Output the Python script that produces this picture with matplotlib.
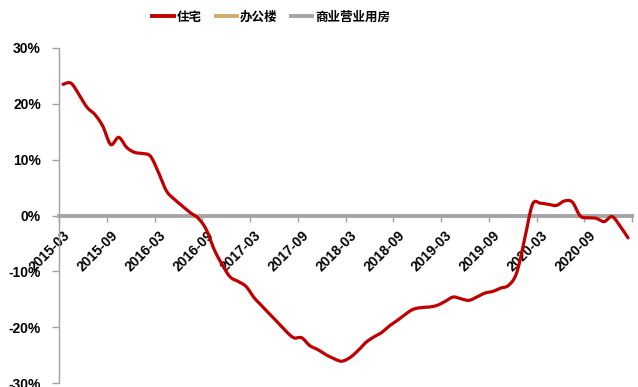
import numpy as np
import matplotlib
matplotlib.use("Agg")
from matplotlib import pyplot as plt
from matplotlib.lines import Line2D
from matplotlib.ticker import FuncFormatter, FixedLocator

plt.rcParams['font.family'] = ['Liberation Sans', 'Noto Sans CJK SC', 'DejaVu Sans']

SERIES_NAMES = ["住宅", "办公楼", "商业营业用房"]
SERIES_COLORS = ["#C00000", "#D6A869", "#A5A5A5"]

# monthly, 2015-03 .. 2021-02 (%)
housing = [23.5, 23.7, 21.7, 19.4, 18.1, 16.0, 12.7, 14.0, 12.2, 11.3, 11.1, 10.6,
           7.7, 4.4, 2.9, 1.7, 0.5, -0.5, -2.5, -6.1, -8.8, -11.0, -11.8, -12.7,
           -14.7, -16.2, -17.7, -19.2, -20.7, -21.9, -21.9, -23.3, -24.0, -24.9, -25.6, -26.1,
           -25.5, -24.3, -22.8, -21.8, -21.0, -19.8, -18.8, -17.7, -16.8, -16.5, -16.4, -16.1,
           -15.4, -14.6, -14.9, -15.2, -14.6, -13.9, -13.6, -13.0, -12.5, -10.3, -4.3, 2.0,
           2.2, 2.0, 1.8, 2.6, 2.4, -0.1, -0.4, -0.5, -1.1, -0.2, -1.9, -4.0]

tick_labels = ["2015-03", "2015-09", "2016-03", "2016-09", "2017-03", "2017-09",
               "2018-03", "2018-09", "2019-03", "2019-09", "2020-03", "2020-09"]


def smooth_path(xs, ys, n=10):
    # catmull-rom curve through the points, like excel's smoothed line
    xs = np.asarray(xs, float)
    ys = np.asarray(ys, float)
    px = np.concatenate([[xs[0]], xs, [xs[-1]]])
    py = np.concatenate([[ys[0]], ys, [ys[-1]]])
    out_x, out_y = [], []
    t = np.linspace(0, 1, n, endpoint=False)
    for i in range(1, len(px) - 2):
        for arr, out in ((px, out_x), (py, out_y)):
            p0, p1, p2, p3 = arr[i - 1], arr[i], arr[i + 1], arr[i + 2]
            out.extend(0.5 * (2 * p1 + (-p0 + p2) * t
                              + (2 * p0 - 5 * p1 + 4 * p2 - p3) * t ** 2
                              + (-p0 + 3 * p1 - 3 * p2 + p3) * t ** 3))
    out_x.append(xs[-1])
    out_y.append(ys[-1])
    return out_x, out_y


x = np.arange(len(housing))

fig = plt.figure(figsize=(6.38, 3.87), dpi=100)
ax = fig.add_axes([0.0925, 0.0103, 0.8981, 0.8657])

sx, sy = smooth_path(x, housing)
ax.plot(sx, sy, color=SERIES_COLORS[0], lw=2.3, solid_capstyle='round', zorder=3)

ax.set_xlim(-0.5, len(housing) - 0.5)
ax.set_ylim(-30, 30)
ax.set_yticks([-30, -20, -10, 0, 10, 20, 30])
ax.yaxis.set_major_formatter(FuncFormatter(lambda v, p: f"{v:.0f}%"))

for s in ["top", "right"]:
    ax.spines[s].set_visible(False)
ax.spines["left"].set_color("#A0A0A0")
ax.spines["left"].set_linewidth(1.0)
ax.spines["bottom"].set_position(("data", 0))
ax.spines["bottom"].set_color("#A5A5A5")
ax.spines["bottom"].set_linewidth(2.8)
ax.spines["bottom"].set_zorder(2)

ax.tick_params(axis="y", direction="out", length=5, width=1, color="#A0A0A0",
               labelsize=10, pad=8)
for lab in ax.get_yticklabels():
    lab.set_fontweight("bold")

# labels at category centres, tick marks between categories
ax.set_xticks(np.arange(0, len(housing), 6))
ax.set_xticklabels(tick_labels, rotation=45, ha="right", va="top",
                   rotation_mode="anchor", fontsize=10, fontweight="bold")
ax.xaxis.set_minor_locator(FixedLocator(np.arange(-0.5, len(housing), 6)))
ax.tick_params(axis="x", which="major", length=0, pad=9)
ax.tick_params(axis="x", which="minor", direction="out", length=4, width=1,
               color="#A0A0A0")

handles = [Line2D([], [], color=c, lw=2.8) for c in SERIES_COLORS]
fig.legend(handles, SERIES_NAMES, loc="center", bbox_to_anchor=(0.4255, 0.956),
           ncol=3, frameon=False, handlelength=1.7, handletextpad=0.25,
           columnspacing=1.1, prop={"family": "Noto Sans CJK SC",
                                    "weight": "heavy", "size": 9})

fig.savefig("out.png", dpi=100)
